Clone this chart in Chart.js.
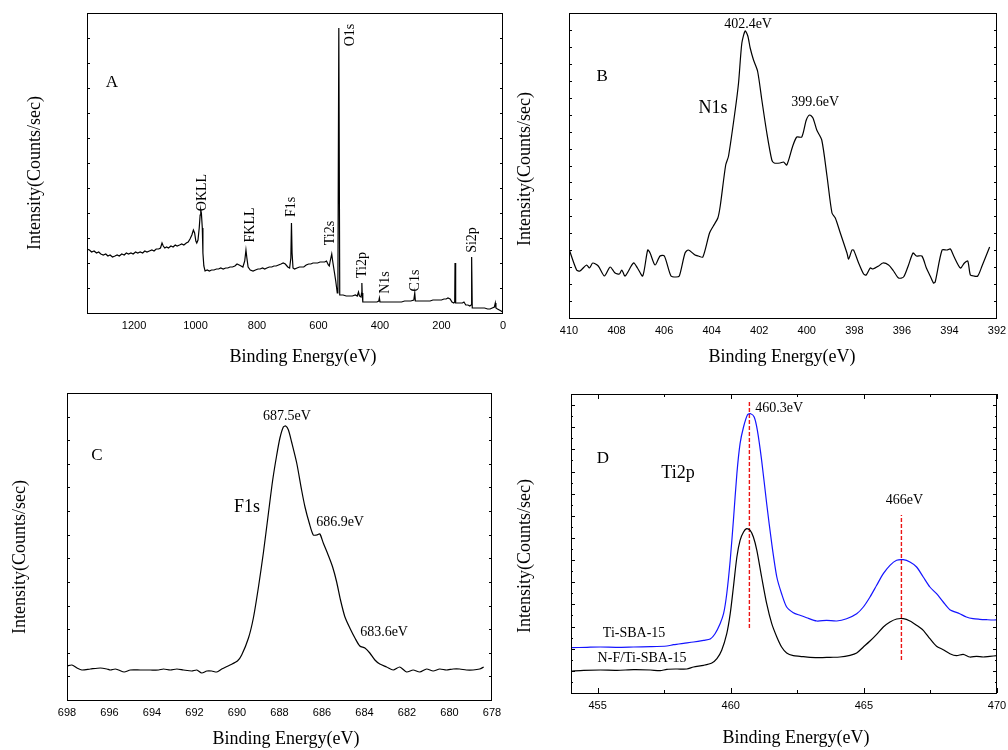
<!DOCTYPE html>
<html>
<head>
<meta charset="utf-8">
<title>XPS spectra</title>
<script src="https://cdn.jsdelivr.net/npm/chart.js@4.4.1/dist/chart.umd.min.js"></script>
<style>
  body { margin: 0; background: #fff; }
  #wrap { position: relative; width: 1008px; height: 750px; overflow: hidden; }
  canvas { position: absolute; }
</style>
</head>
<body>
<div id="wrap">
  <canvas id="chartA" width="510" height="370" style="left:0;top:0"></canvas>
  <canvas id="chartB" width="508" height="370" style="left:500px;top:0"></canvas>
  <canvas id="chartC" width="510" height="370" style="left:0;top:380px"></canvas>
  <canvas id="chartD" width="508" height="370" style="left:500px;top:380px"></canvas>
</div>
<script>
const SERIF = '"Liberation Serif", "Times New Roman", serif';
const SANS = '"Liberation Sans", Arial, sans-serif';

// A: survey spectrum
const surveyEnergy = [
  1353,1345,1338,1330,1322,1315,1308,1300,1292,1285,
  1278,1270,1262,1255,1248,1240,1232,1225,1218,1210,
  1203,1195,1188,1180,1172,1165,1158,1150,1142,1135,
  1128,1120,1114,1109,1105,1100,1094,1088,1080,1073,
  1066,1060,1052,1045,1038,1030,1024,1018,1012,1007,
  1003,999,996,992,988,985,983,981,978,976,
  973,969,962,955,948,940,932,925,918,910,
  902,895,888,880,872,865,858,852,846,840,
  836,833,829,822,813,805,797,790,782,775,
  768,760,752,745,738,730,722,715,708,700,
  694,690,688,686,683,678,670,662,655,648,
  640,632,625,618,610,603,595,588,580,574,
  568,565,562,557,554,549,544,539,537,534,
  531,528,520,510,500,490,480,474,470,467,
  462,460,459,458,456,448,440,430,420,410,
  404,402,400,390,380,370,360,350,340,330,
  320,310,300,290,287,285,275,265,255,245,
  237,228,220,210,200,192,185,179,172,166,
  160,157,156,154,150,140,132,127,121,114,
  108,104,102,100,90,80,70,60,50,42,
  35,28,25,23,18,12,6,1
];
const surveyCounts = [
  64,63,61,62,60,61,59,58,59,57,
  58,56,57,58,57,59,58,60,59,60,
  59,61,60,61,60,62,61,62,63,62,
  64,64,65,70,67,65,66,65,67,66,
  68,67,68,69,68,70,71,74,78,83,
  80,72,70,73,85,98,103,100,85,60,
  47,42,43,42,43,43,44,44,45,44,
  45,45,46,46,47,49,48,47,46,52,
  63,55,46,43,42,43,44,44,45,44,
  45,46,46,47,47,48,49,50,49,46,
  45,55,90,60,45,44,45,46,46,46,
  48,49,49,50,50,50,51,51,51,52,
  48,47,52,59,52,42,32,20,22,285,
  18,18,18,17,17,17,18,17,21,17,
  16,20,30,20,11,11,11,11,11,11,
  12,15,11,11,11,11,11,11,11,11,
  12,12,12,13,20,12,12,12,12,12,
  12,13,13,13,13,14,14,15,14,11,
  10,11,50,10,10,10,10,11,8,8,
  7,8,56,5,5,5,5,5,4,4,
  5,6,10,5,4,3,2,1
];

// B: N1s
const n1sEnergy = [
  410.00,409.68,409.54,409.26,409.14,409.00,408.77,408.51,408.27,408.06,
  407.88,407.78,407.64,407.29,407.12,406.90,406.69,406.59,406.38,406.17,
  405.99,405.71,405.50,405.36,405.12,404.98,404.70,404.56,404.37,404.09,
  403.93,403.74,403.64,403.41,403.29,403.01,402.87,402.73,402.59,402.48,
  402.38,402.24,402.07,401.89,401.68,401.47,401.37,401.12,400.98,400.84,
  400.59,400.42,400.21,400.02,399.88,399.74,399.58,399.37,399.15,398.94,
  398.80,398.59,398.31,398.24,398.10,398.03,397.82,397.61,397.50,397.33,
  397.22,396.98,396.80,396.56,396.35,396.14,395.93,395.72,395.53,395.39,
  395.16,394.97,394.81,394.67,394.60,394.31,394.10,393.96,393.82,393.54,
  393.37,393.23,393.12,392.98,392.81,392.63,392.31
];
const n1sCounts = [
  69,48,47,53,50,55,52,42,51,45,
  44,48,42,55,50,42,68,65,53,62,
  62,42,41,42,65,68,63,62,61,85,
  92,100,112,153,162,208,235,275,287,282,
  270,258,247,218,185,158,155,155,156,153,
  172,181,181,198,203,200,188,178,142,105,
  100,85,65,59,68,68,55,44,43,50,
  49,52,55,53,47,40,41,53,65,62,
  62,50,42,35,36,68,68,69,62,50,
  55,57,43,42,42,52,71
];

// C: F1s
const f1sEnergy = [
  698.00,697.77,697.53,697.30,696.90,696.43,696.12,695.96,695.73,695.57,
  695.31,695.02,694.55,694.08,693.69,693.46,693.14,692.83,692.52,692.13,
  691.89,691.66,691.42,691.19,690.95,690.72,690.33,689.98,689.78,689.46,
  689.23,688.99,688.76,688.52,688.32,688.13,687.98,687.82,687.71,687.58,
  687.43,687.19,686.96,686.80,686.60,686.41,686.25,686.10,685.94,685.71,
  685.50,685.31,685.13,684.92,684.69,684.45,684.22,683.98,683.75,683.51,
  683.28,682.96,682.65,682.34,682.02,681.71,681.40,681.08,680.77,680.46,
  680.15,679.83,679.52,679.21,678.89,678.58,678.39
];
const f1sCounts = [
  34,35,32,30,31,32,31,30,31,30,
  28,30,30,30,30,31,30,31,30,29,
  30,27,29,29,28,31,35,39,45,62,
  82,113,147,187,220,245,262,273,274,270,
  258,237,210,193,177,165,165,166,157,145,
  133,118,100,83,72,62,54,52,47,40,
  36,33,30,33,28,30,28,31,29,31,
  30,31,31,30,30,31,33
];

// D: Ti2p, two samples
const tiSbaEnergy = [
  454.00,454.60,455.10,455.73,456.35,456.98,457.60,457.85,458.23,458.60,
  458.98,459.23,459.41,459.60,459.73,459.85,459.98,460.10,460.23,460.35,
  460.48,460.63,460.75,460.88,461.00,461.16,461.35,461.54,461.73,461.91,
  462.10,462.35,462.60,462.85,463.23,463.60,463.98,464.35,464.73,464.98,
  465.23,465.48,465.73,465.98,466.23,466.48,466.73,466.98,467.23,467.48,
  467.73,467.98,468.23,468.60,468.85,469.10,469.35,469.60,469.85,470.00
];
const tiSbaCounts = [
  45.3,45.7,46,45.7,46,46.3,47,48.3,49.7,51,
  52.7,54,59.3,69.3,79.3,99.3,132.7,172.7,219.3,249.3,
  266,278.3,279.3,276,262.7,232.7,189.3,149.3,116,99.3,
  86,80.3,77.7,75.3,72,72.7,72,74.3,79.3,86,
  96,107.7,119.3,127.7,132.7,133.3,131,126,116,106,
  99.3,91,83.3,79.3,76,74.3,73.7,73.3,73,73.3
];
const nfTiSbaEnergy = [
  454.00,454.48,455.10,455.73,456.35,456.98,457.35,457.60,457.98,458.35,
  458.60,458.98,459.29,459.48,459.66,459.85,459.98,460.10,460.23,460.35,
  460.48,460.60,460.73,460.85,460.98,461.16,461.35,461.54,461.73,461.91,
  462.10,462.35,462.60,462.98,463.35,463.73,464.10,464.48,464.73,464.98,
  465.23,465.48,465.73,465.98,466.23,466.48,466.73,466.98,467.23,467.48,
  467.73,467.98,468.23,468.48,468.73,468.98,469.23,469.48,469.73,470.00
];
const nfTiSbaCounts = [
  22,22.7,23,22.7,23.3,23,22.3,23.7,24,24,
  26,27.7,30,34.3,42.7,59.3,79.3,106,136,152.7,
  161,164.3,162.7,156,142.7,116,89.3,69.3,56,46,
  40,37.3,36.7,35.7,35.3,35.7,36,37.7,40,46,
  52,58.7,66,71,74,74.3,72,67.7,62.7,54.3,
  46.7,43.3,39.3,37.3,38.7,36,36.7,36,36.7,37.3
];
// peak marker lines in D: [energy, from, to]
const peakMarks = [[460.7, 65, 291], [466.41, 33, 178]];

// text notes, placed in data units
const notesA = [
  {text: 'A', x: 1272, y: 230, size: 17},
  {text: 'OKLL', x: 979, y: 120.5, rot: true},
  {text: 'FKLL', x: 823, y: 88, rot: true},
  {text: 'F1s', x: 687, y: 106, rot: true},
  {text: 'Ti2s', x: 563, y: 80, rot: true},
  {text: 'O1s', x: 498, y: 278, rot: true},
  {text: 'Ti2p', x: 459, y: 48, rot: true},
  {text: 'N1s', x: 384, y: 30.5, rot: true},
  {text: 'C1s', x: 286, y: 32.5, rot: true},
  {text: 'Si2p', x: 98.5, y: 73, rot: true}
];
const notesB = [
  {text: 'B', x: 408.61, y: 241, size: 17},
  {text: 'N1s', x: 403.94, y: 210, size: 18},
  {text: '402.4eV', x: 402.47, y: 294},
  {text: '399.6eV', x: 399.65, y: 216}
];
const notesC = [
  {text: 'C', x: 696.59, y: 244, size: 17},
  {text: 'F1s', x: 689.53, y: 193, size: 18},
  {text: '687.5eV', x: 687.65, y: 284},
  {text: '686.9eV', x: 685.15, y: 178},
  {text: '683.6eV', x: 683.08, y: 68}
];
const notesD = [
  {text: 'D', x: 455.2, y: 234, size: 17},
  {text: 'Ti2p', x: 458.02, y: 220, size: 18},
  {text: '460.3eV', x: 461.82, y: 285},
  {text: '466eV', x: 466.52, y: 193},
  {text: 'Ti-SBA-15', x: 456.37, y: 60},
  {text: 'N-F/Ti-SBA-15', x: 456.67, y: 35}
];

const X_TITLE = 'Binding Energy(eV)';
const Y_TITLE = 'Intensity(Counts/sec)';

function points(xs, ys) {
  return xs.map((v, i) => ({x: v, y: ys[i]}));
}

// 画框、内向刻度、轴标题和文字标注
const framePlugin = {
  id: 'frame',
  afterDatasetsDraw(chart, args, opts) {
    const {ctx, chartArea: a} = chart;
    const xs = chart.scales.x, ys = chart.scales.y;
    ctx.save();
    ctx.strokeStyle = '#000';
    ctx.lineWidth = 1;
    ctx.beginPath();
    const xt = xs.ticks.map(t => t.value);
    const step = xt[1] - xt[0];
    const lo = Math.min(xs.min, xs.max), hi = Math.max(xs.min, xs.max);
    for (let k = -2; ; k++) {
      const v = xt[0] + k * step / 2;
      if (v > hi + 1e-9) break;
      if (v < lo - 1e-9) continue;
      const len = k % 2 === 0 ? 5 : 3;
      const px = Math.round(xs.getPixelForValue(v)) + 0.5;
      ctx.moveTo(px, a.bottom); ctx.lineTo(px, a.bottom - len);
      ctx.moveTo(px, a.top); ctx.lineTo(px, a.top + len);
    }
    for (let i = 0; i <= opts.yDiv; i++) {
      const v = ys.min + (ys.max - ys.min) * i / opts.yDiv;
      const len = opts.yAlt ? (i % 2 ? 2 : 4) : 3;
      const py = Math.round(ys.getPixelForValue(v)) + 0.5;
      ctx.moveTo(a.left, py); ctx.lineTo(a.left + len, py);
      ctx.moveTo(a.right, py); ctx.lineTo(a.right - len, py);
    }
    ctx.stroke();
    ctx.strokeRect(Math.round(a.left) + 0.5, Math.round(a.top) + 0.5,
      Math.round(a.right - a.left) - 1, Math.round(a.bottom - a.top));

    ctx.fillStyle = '#000';
    ctx.textAlign = 'center';
    ctx.textBaseline = 'middle';
    ctx.font = '18px ' + SERIF;
    ctx.fillText(X_TITLE, opts.xTitle[0], opts.xTitle[1]);
    ctx.save();
    ctx.translate(opts.yTitle[0], opts.yTitle[1]);
    ctx.rotate(-Math.PI / 2);
    ctx.fillText(Y_TITLE, 0, 0);
    ctx.restore();

    (opts.notes || []).forEach(n => {
      ctx.font = (n.size || 14) + 'px ' + SERIF;
      const px = xs.getPixelForValue(n.x), py = ys.getPixelForValue(n.y);
      if (n.rot) {
        ctx.save();
        ctx.translate(px, py);
        ctx.rotate(-Math.PI / 2);
        ctx.fillText(n.text, 0, 0);
        ctx.restore();
      } else {
        ctx.fillText(n.text, px, py);
      }
    });
    ctx.restore();
  }
};

function makeChart(id, cfg) {
  return new Chart(document.getElementById(id), {
    type: 'line',
    data: {datasets: cfg.datasets},
    options: {
      responsive: false,
      animation: false,
      layout: {padding: cfg.pad},
      plugins: {
        legend: {display: false},
        tooltip: {enabled: false},
        frame: {notes: cfg.notes, yDiv: cfg.yDiv, yAlt: cfg.yAlt,
                xTitle: cfg.xTitle, yTitle: cfg.yTitle}
      },
      scales: {
        x: {
          type: 'linear',
          min: cfg.xMin,
          max: cfg.xMax,
          reverse: cfg.reverse,
          grid: {display: false, drawTicks: false},
          border: {display: false},
          ticks: {
            stepSize: cfg.xStep,
            includeBounds: false,
            autoSkip: false,
            maxRotation: 0,
            padding: 6,
            color: '#000',
            font: {family: SANS, size: 11},
            callback: v => String(v)
          },
          afterFit: s => { s.height = cfg.xH; s.paddingLeft = 0; s.paddingRight = 0; }
        },
        y: {
          type: 'linear',
          min: 0,
          max: cfg.yMax,
          grid: {display: false, drawTicks: false},
          border: {display: false},
          ticks: {display: false},
          afterFit: s => { s.width = cfg.yW; s.paddingTop = 0; s.paddingBottom = 0; }
        }
      }
    },
    plugins: [framePlugin]
  });
}

const lineStyle = {borderColor: '#000', borderWidth: 1.2, pointRadius: 0, fill: false};

makeChart('chartA', {
  datasets: [{...lineStyle, data: points(surveyEnergy, surveyCounts), tension: 0}],
  notes: notesA,
  pad: {top: 13, right: 7, left: 0, bottom: 0},
  xMin: 0, xMax: 1353, xStep: 200, reverse: true,
  yMax: 300, yDiv: 12,
  xH: 57, yW: 87, xTitle: [303, 357], yTitle: [35, 173]
});

makeChart('chartB', {
  datasets: [{...lineStyle, data: points(n1sEnergy, n1sCounts), tension: 0.25}],
  notes: notesB,
  pad: {top: 13, right: 11, left: 0, bottom: 0},
  xMin: 392, xMax: 410, xStep: 2, reverse: true,
  yMax: 305, yDiv: 18,
  xH: 52, yW: 69, xTitle: [282, 357], yTitle: [25, 169]
});

makeChart('chartC', {
  datasets: [{...lineStyle, data: points(f1sEnergy, f1sCounts), tension: 0.25}],
  notes: notesC,
  pad: {top: 13, right: 18, left: 0, bottom: 0},
  xMin: 678, xMax: 698, xStep: 2, reverse: true,
  yMax: 307, yDiv: 13,
  xH: 50, yW: 67, xTitle: [286, 359], yTitle: [20, 177]
});

makeChart('chartD', {
  datasets: [
    {...lineStyle, borderColor: '#1414ff', data: points(tiSbaEnergy, tiSbaCounts), tension: 0.25},
    {...lineStyle, data: points(nfTiSbaEnergy, nfTiSbaCounts), tension: 0.25},
    ...peakMarks.map(m => ({
      borderColor: 'rgb(235, 20, 20)', borderWidth: 1.4, borderDash: [4, 2], pointRadius: 0,
      data: [{x: m[0], y: m[1]}, {x: m[0], y: m[2]}]
    }))
  ],
  notes: notesD,
  pad: {top: 14, right: 11, left: 0, bottom: 0},
  xMin: 454, xMax: 470, xStep: 5, reverse: false,
  yMax: 299, yDiv: 27, yAlt: true,
  xH: 57, yW: 71, xTitle: [296, 358], yTitle: [25, 176]
});
</script>
</body>
</html>
